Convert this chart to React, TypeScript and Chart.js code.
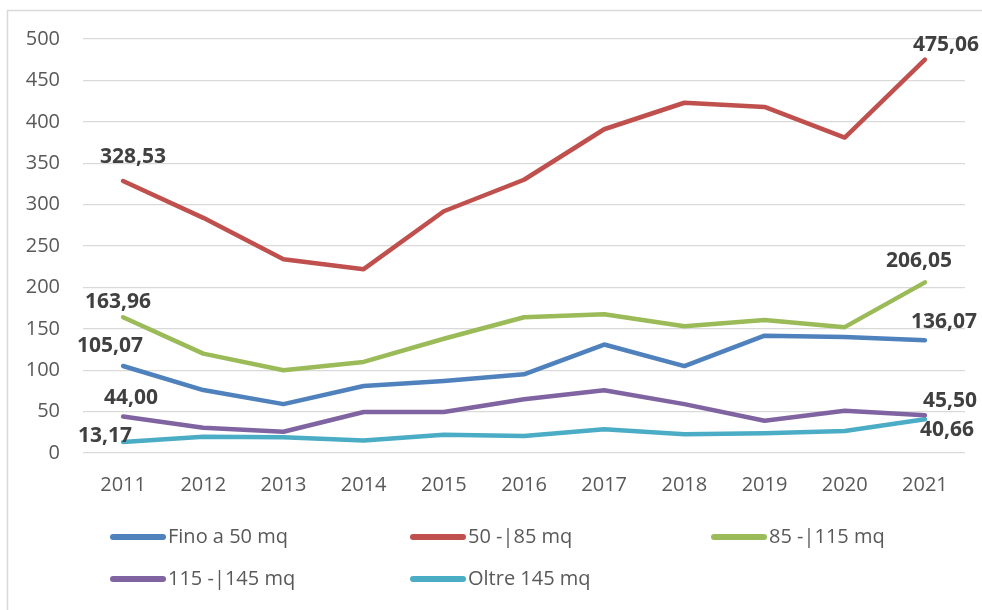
import React, { useEffect, useRef } from "react";
import { Chart, registerables } from "chart.js";

Chart.register(...registerables);

const years = ["2011", "2012", "2013", "2014", "2015", "2016", "2017", "2018", "2019", "2020", "2021"];
const fino50 = [105.07, 76, 59, 81, 87, 95, 131, 105, 141.7, 140, 136.07];
const da50a85 = [328.53, 284, 234, 222, 292, 330, 391, 423, 418, 381, 475.06];
const da85a115 = [163.96, 120, 100, 110, 138, 164, 167.5, 153, 160.5, 152, 206.05];
const da115a145 = [44.0, 30.6, 25.7, 49.5, 49.5, 65, 75.7, 59, 39, 51, 45.5];
const oltre145 = [13.17, 19.7, 19, 15, 22, 20.5, 28.6, 22.6, 24, 26.5, 40.66];
const seriesNames = ["Fino a 50 mq", "50 -|85 mq", "85 -|115 mq", "115 -|145 mq", "Oltre 145 mq"];
const yTicks = [0, 50, 100, 150, 200, 250, 300, 350, 400, 450, 500];

const colors = ["#4f81bd", "#c0504d", "#9bbb59", "#8064a2", "#4bacc6"];
// label offsets [first point, last point] per series: [dx, dy]
const labelOffsets = [
  [[-13, -20], [19, -18]],
  [[10, -24], [21, -15]],
  [[-5, -15], [-6, -21]],
  [[8, -19], [25, -14]],
  [[-18, -6], [22, 11]],
];
const FONT = "'Open Sans', 'Liberation Sans', sans-serif";

const fmt = (v: number) => v.toFixed(2).replace(".", ",");

const framePlugin = {
  id: "frame",
  beforeDraw(chart: any) {
    const ctx = chart.ctx;
    ctx.save();
    ctx.strokeStyle = "#d9d9d9";
    ctx.lineWidth = 1.5;
    ctx.strokeRect(7.5, 10.5, 2000, 2000);
    ctx.restore();
  },
};

const labelsPlugin = {
  id: "endLabels",
  afterDatasetsDraw(chart: any) {
    const ctx = chart.ctx;
    ctx.save();
    ctx.font = `bold 21px ${FONT}`;
    ctx.fillStyle = "#404040";
    ctx.textAlign = "center";
    ctx.textBaseline = "middle";
    chart.data.datasets.forEach((ds: any, i: number) => {
      const meta = chart.getDatasetMeta(i);
      const n = ds.data.length;
      [0, n - 1].forEach((idx, k) => {
        const pt = meta.data[idx];
        const [dx, dy] = labelOffsets[i][k];
        ctx.fillText(fmt(ds.data[idx]), pt.x + dx, pt.y + dy);
      });
    });
    ctx.restore();
  },
};

const legendPlugin = {
  id: "customLegend",
  afterDraw(chart: any) {
    const ctx = chart.ctx;
    const cols = [110, 410, 711];
    const rows = [537, 579];
    ctx.save();
    ctx.font = `20px ${FONT}`;
    ctx.textBaseline = "middle";
    ctx.textAlign = "left";
    chart.data.datasets.forEach((ds: any, i: number) => {
      const x = cols[i % 3];
      const y = rows[Math.floor(i / 3)];
      ctx.strokeStyle = ds.borderColor;
      ctx.lineWidth = 6;
      ctx.lineCap = "round";
      ctx.beginPath();
      ctx.moveTo(x + 3, y);
      ctx.lineTo(x + 53, y);
      ctx.stroke();
      ctx.fillStyle = "#595959";
      ctx.fillText(ds.label, x + 58, y);
    });
    ctx.restore();
  },
};

export default function App() {
  const ref = useRef<HTMLCanvasElement | null>(null);
  useEffect(() => {
    if (!ref.current) return;
    const all = [fino50, da50a85, da85a115, da115a145, oltre145];
    const chart = new Chart(ref.current, {
      type: "line",
      data: {
        labels: years,
        datasets: all.map((d, i) => ({
          label: seriesNames[i],
          data: d,
          borderColor: colors[i],
          backgroundColor: colors[i],
          borderWidth: 4.5,
          pointRadius: 0,
          tension: 0,
          borderCapStyle: "round",
          borderJoinStyle: "round",
          fill: false,
        })),
      },
      options: {
        animation: false,
        responsive: false,
        devicePixelRatio: 1,
        layout: { padding: { left: 0, top: 39, right: 17, bottom: 107 } },
        plugins: { legend: { display: false }, tooltip: { enabled: false } },
        scales: {
          x: {
            offset: true,
            grid: { display: false, drawTicks: false },
            border: { display: false },
            ticks: { color: "#595959", font: { family: FONT, size: 20 }, padding: 20, maxRotation: 0 },
            afterFit: (s: any) => { s.height = 50; },
          },
          y: {
            min: 0,
            max: 500,
            afterBuildTicks: (s: any) => { s.ticks = yTicks.map((v) => ({ value: v })); },
            grid: { color: "#d9d9d9", lineWidth: 1.3, drawTicks: false },
            border: { display: false },
            ticks: { color: "#595959", font: { family: FONT, size: 20 }, padding: 23 },
            afterFit: (s: any) => { s.width = 83; },
          },
        },
      },
      plugins: [framePlugin, labelsPlugin, legendPlugin],
    } as any);
    return () => chart.destroy();
  }, []);
  return (
    <div style={{ position: "fixed", left: 0, top: 0, width: 982, height: 610, background: "#fff", overflow: "hidden" }}>
      <canvas ref={ref} width={982} height={610} style={{ width: 982, height: 610, display: "block" }} />
    </div>
  );
}
